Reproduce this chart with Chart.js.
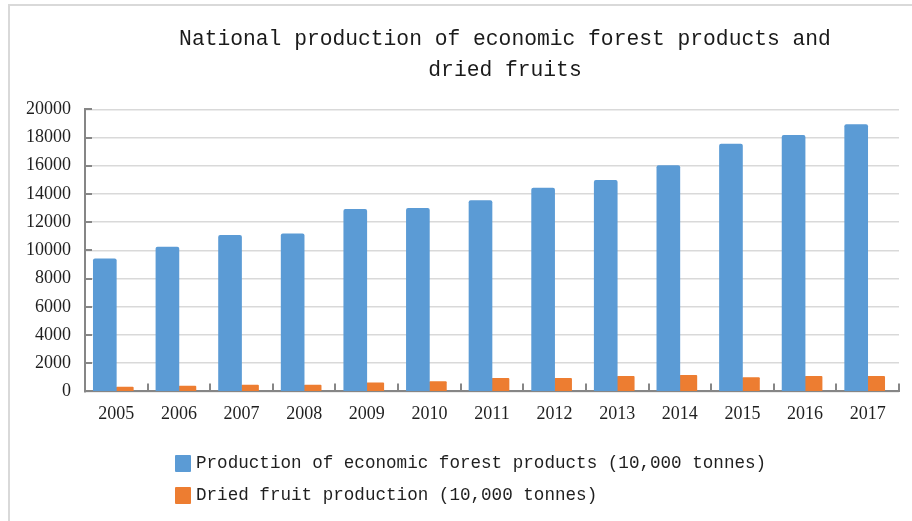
<!DOCTYPE html>
<html>
<head>
<meta charset="utf-8">
<script src="https://cdn.jsdelivr.net/npm/chart.js@4/dist/chart.umd.min.js"></script>
<style>
  html, body { margin: 0; padding: 0; background: #fff; }
  #wrap { position: relative; width: 912px; height: 521px; overflow: hidden; }
  #frame { position: absolute; left: 8px; top: 4px; width: 904px; height: 517px;
           border-top: 2px solid #d9d9d9; border-left: 2px solid #d9d9d9; pointer-events: none; box-sizing: border-box; }
  #legend { position: absolute; left: 175px; top: 447px; font-family: "Liberation Mono", monospace;
            font-size: 17.6px; color: #1f1f1f; }
  #legend .row { display: flex; align-items: center; height: 32px; white-space: pre; }
  #legend .box { width: 16px; height: 17px; margin-right: 5px; border-radius: 1px; }
</style>
</head>
<body>
<div id="wrap">
  <canvas id="c" width="912" height="521"></canvas>
  <div id="frame"></div>
  <div id="legend"></div>
</div>
<script>
const titleLines = ["National production of economic forest products and", "dried fruits"];
const years = ["2005","2006","2007","2008","2009","2010","2011","2012","2013","2014","2015","2016","2017"];
const forestName = "Production of economic forest products (10,000 tonnes)";
const driedName = "Dried fruit production (10,000 tonnes)";
const forestValues = [9400, 10240, 11070, 11170, 12910, 12980, 13530, 14410, 14960, 16010, 17540, 18160, 18920];
const driedValues = [310, 380, 450, 450, 600, 690, 930, 930, 1075, 1145, 975, 1075, 1075];
const yMax = 20000;
const yStep = 2000;

const axisGray = '#868686';

const insideTicks = {
  id: 'insideTicks',
  afterDraw(chart) {
    const { ctx, chartArea: a, scales: { x, y } } = chart;
    ctx.save();
    ctx.strokeStyle = axisGray;
    ctx.lineWidth = 2;
    ctx.beginPath();
    for (let i = 0; i <= x.ticks.length; i++) {
      const px = Math.round(x.getPixelForValue(i - 0.5));
      ctx.moveTo(px, a.bottom);
      ctx.lineTo(px, a.bottom - 8);
    }
    y.ticks.forEach((t, i) => {
      const py = Math.round(y.getPixelForTick(i));
      ctx.moveTo(a.left, py);
      ctx.lineTo(a.left + 7, py);
    });
    ctx.stroke();
    ctx.restore();
  }
};

// nudge the title block slightly right, as in the original layout
const titleNudge = {
  id: 'titleNudge',
  afterLayout(chart) {
    const t = chart.titleBlock;
    if (t) { t.left += 13; t.right += 13; }
  }
};

const htmlLegend = {
  id: 'htmlLegend',
  afterUpdate(chart) {
    const el = document.getElementById('legend');
    el.innerHTML = '';
    const items = Chart.defaults.plugins.legend.labels.generateLabels(chart);
    items.forEach(it => {
      const row = document.createElement('div');
      row.className = 'row';
      const box = document.createElement('span');
      box.className = 'box';
      box.style.background = it.fillStyle;
      const txt = document.createElement('span');
      txt.textContent = it.text;
      row.appendChild(box);
      row.appendChild(txt);
      el.appendChild(row);
    });
  }
};

new Chart(document.getElementById('c'), {
  type: 'bar',
  data: {
    labels: years,
    datasets: [
      { label: forestName, data: forestValues, backgroundColor: '#5B9BD5', barThickness: 23,
        borderRadius: { topLeft: 2, topRight: 2 }, borderSkipped: 'bottom' },
      { label: driedName, data: driedValues, backgroundColor: '#ED7D31', barThickness: 17,
        borderRadius: { topLeft: 1, topRight: 1 }, borderSkipped: 'bottom' }
    ]
  },
  options: {
    responsive: false,
    animation: false,
    devicePixelRatio: 1,
    layout: { padding: { left: 12, right: 13, top: 0, bottom: 84 } },
    plugins: {
      legend: { display: false },
      tooltip: { enabled: false },
      title: {
        display: true,
        text: titleLines,
        fullSize: false,
        color: '#1a1a1a',
        font: { family: '"Liberation Mono", monospace', size: 21.3, weight: 'normal', lineHeight: 1.44 },
        padding: { top: 24, bottom: 24 }
      }
    },
    scales: {
      x: {
        offset: true,
        grid: { display: false, drawTicks: false },
        border: { display: true, color: axisGray, width: 2 },
        ticks: { color: '#1f1f1f', padding: 12, font: { family: '"Liberation Serif", serif', size: 18 } }
      },
      y: {
        min: 0, max: yMax,
        grid: { color: '#d9d9d9', lineWidth: 1.5, drawTicks: false },
        border: { display: true, color: axisGray, width: 2 },
        ticks: { stepSize: yStep, color: '#1f1f1f', padding: 14,
                 font: { family: '"Liberation Serif", serif', size: 18 },
                 callback: (v) => String(v) }
      }
    }
  },
  plugins: [insideTicks, titleNudge, htmlLegend]
});
</script>
</body>
</html>
